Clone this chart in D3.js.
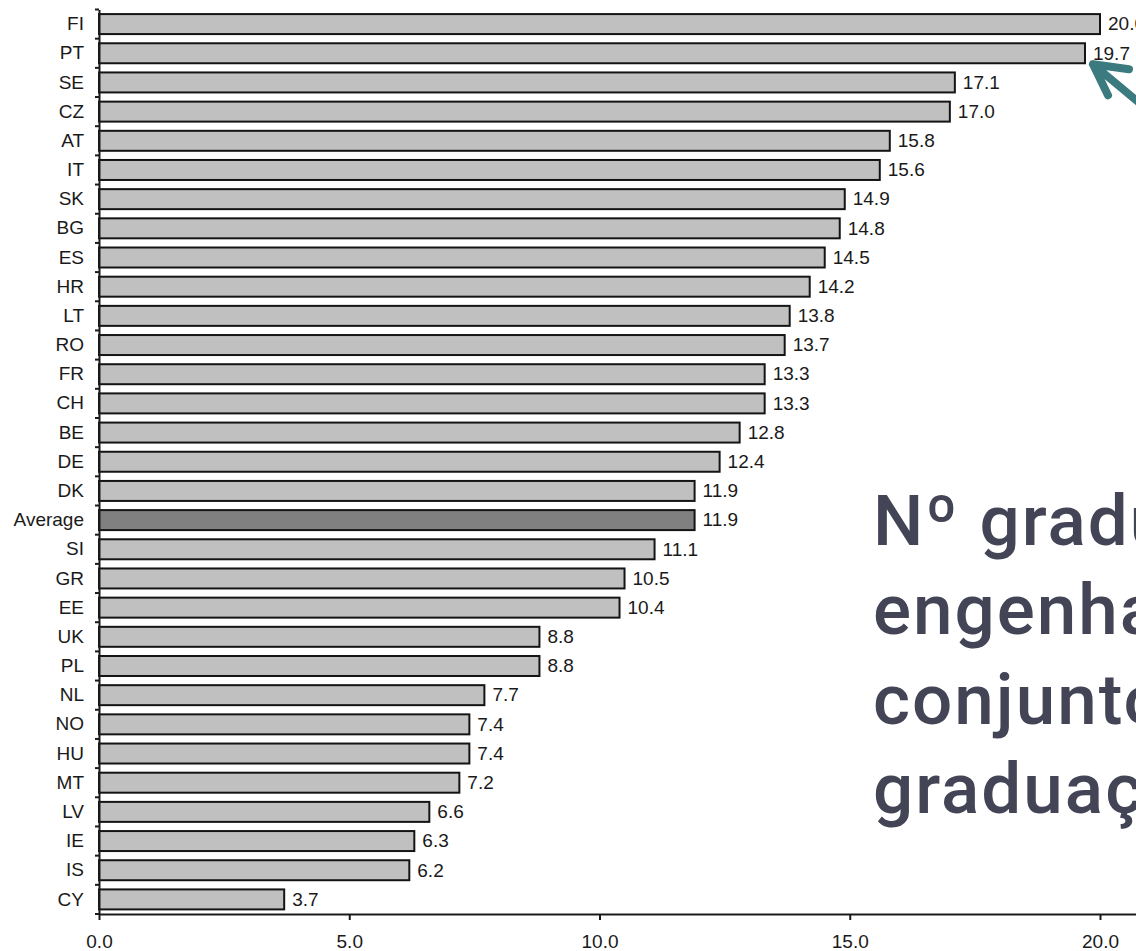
<!DOCTYPE html>
<html>
<head>
<meta charset="utf-8">
<script src="https://cdn.jsdelivr.net/npm/d3@7"></script>
<style>
  html, body { margin: 0; padding: 0; background: #fff; }
  svg { display: block; }
  .axis text { font-family: "Liberation Sans", Arial, sans-serif; font-size: 19px; fill: #1a1a1a; }
  .axis path, .axis line { stroke: #1a1a1a; stroke-width: 2; }
  .val { font-family: "Liberation Sans", Arial, sans-serif; font-size: 19px; fill: #1a1a1a; }
  .note { font-family: Roboto, "Open Sans", sans-serif; font-weight: 500; font-size: 71px; letter-spacing: 2px; fill: #434455; }
</style>
</head>
<body>
<svg id="chart" width="1136" height="951"></svg>
<script>
// Countries, top to bottom, with the EU average inserted in rank order
const countries = ["FI","PT","SE","CZ","AT","IT","SK","BG","ES","HR","LT","RO","FR","CH","BE","DE","DK","Average","SI","GR","EE","UK","PL","NL","NO","HU","MT","LV","IE","IS","CY"];
const values = [20.0,19.7,17.1,17.0,15.8,15.6,14.9,14.8,14.5,14.2,13.8,13.7,13.3,13.3,12.8,12.4,11.9,11.9,11.1,10.5,10.4,8.8,8.8,7.7,7.4,7.4,7.2,6.6,6.3,6.2,3.7];
const xTicks = [0, 5, 10, 15, 20];
const noteLines = ["Nº graduados em", "engenharia no", "conjunto das", "graduações"];
const highlighted = "PT";

const data = countries.map((c, i) => ({ country: c, value: values[i] }));

const svg = d3.select("#chart");
const plotLeft = 99, plotTop = 9.5, plotBottom = 914;

const x = d3.scaleLinear().domain([0, 22]).range([plotLeft, plotLeft + 22 * 50.05]);
const y = d3.scaleBand().domain(countries).range([plotTop, plotBottom])
  .paddingInner(0.315).paddingOuter(0.1575);

// bars
svg.append("g").selectAll("rect").data(data).join("rect")
  .attr("x", x(0))
  .attr("y", d => y(d.country))
  .attr("width", d => x(d.value) - x(0))
  .attr("height", y.bandwidth())
  .attr("fill", d => d.country === "Average" ? "#808080" : "#c0c0c0")
  .attr("stroke", "#141414")
  .attr("stroke-width", 2);

// value labels
svg.append("g").selectAll("text").data(data).join("text")
  .attr("class", "val")
  .attr("x", d => x(d.value) + 8)
  .attr("y", d => y(d.country) + y.bandwidth() / 2)
  .attr("dy", "0.33em")
  .text(d => d.value.toFixed(1));

// category axis: labels centred on bars, ticks on band boundaries
const yAxis = svg.append("g").attr("class", "axis")
  .attr("transform", `translate(${plotLeft},0)`)
  .call(d3.axisLeft(y).tickSize(0).tickPadding(15).tickSizeOuter(0));
const gap = (y.step() - y.bandwidth()) / 2;
const bounds = countries.map(c => y(c) - gap).concat([y(countries[countries.length - 1]) + y.bandwidth() + gap]);
yAxis.append("g").selectAll("line").data(bounds).join("line")
  .attr("x1", -4).attr("x2", 0)
  .attr("y1", d => d).attr("y2", d => d);

// value axis
svg.append("g").attr("class", "axis")
  .attr("transform", `translate(0,${plotBottom})`)
  .call(d3.axisBottom(x).tickValues(xTicks).tickSize(6).tickPadding(15)
    .tickSizeOuter(0).tickFormat(d3.format(".1f")));

// callout arrow pointing at Portugal's bar
const tx = x(values[countries.indexOf(highlighted)]) + 8;
const ty = y(highlighted) + y.bandwidth() + 1;
svg.append("path")
  .attr("d", `M${tx + 60},${ty + 50} L${tx},${ty} M${tx + 36},${ty + 5} L${tx},${ty} L${tx + 15},${ty + 31}`)
  .attr("fill", "none")
  .attr("stroke", "#3b7b80")
  .attr("stroke-width", 8)
  .attr("stroke-linecap", "round")
  .attr("stroke-linejoin", "round");

// side note
svg.append("text").attr("class", "note")
  .selectAll("tspan").data(noteLines).join("tspan")
  .attr("x", 873)
  .attr("y", (d, i) => 545 + i * 89.3)
  .text(d => d);
</script>
</body>
</html>
